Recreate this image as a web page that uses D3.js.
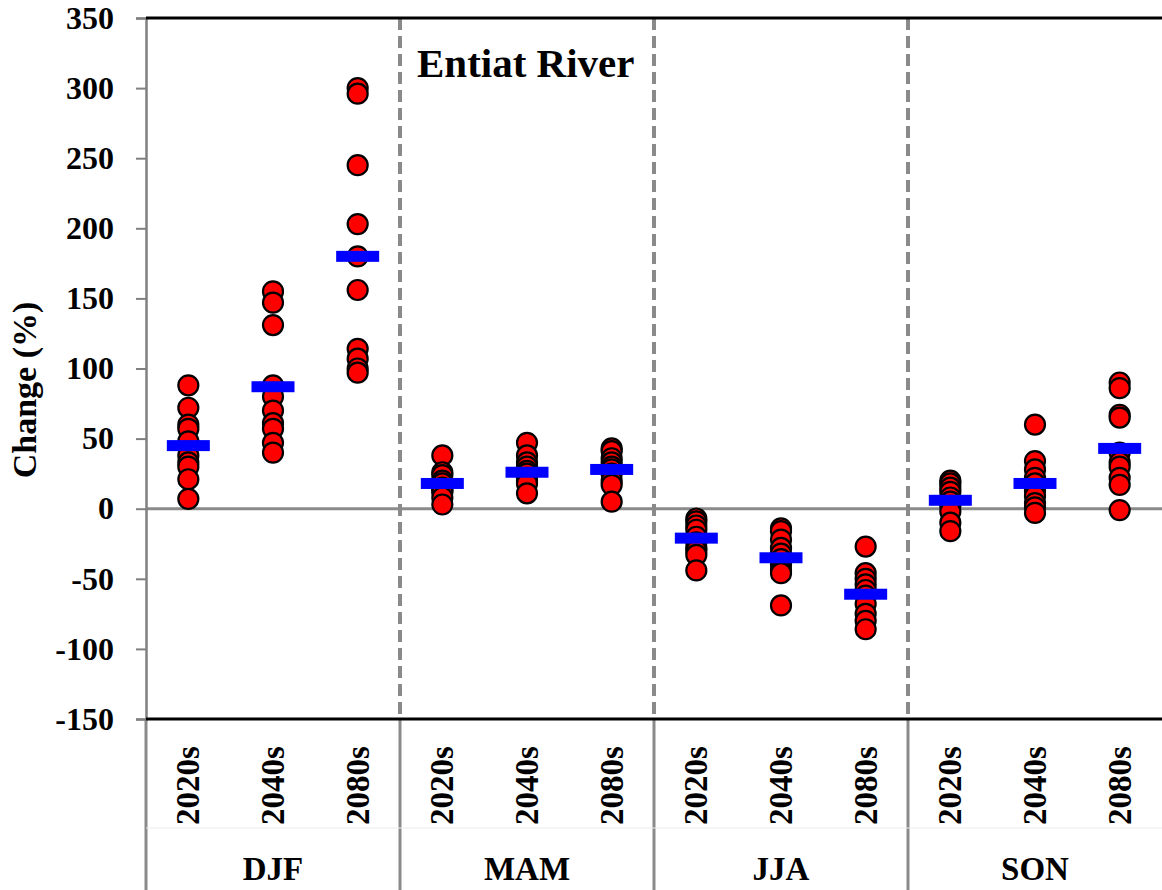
<!DOCTYPE html>
<html>
<head>
<meta charset="utf-8">
<script src="https://cdn.jsdelivr.net/npm/d3@7"></script>
<style>
  body { margin: 0; background: #fff; }
  text { font-family: "Liberation Serif", "Times New Roman", serif; font-weight: bold; }
</style>
</head>
<body>
<div class="canvas"></div>
<script>
// Data (% change in streamflow, one value per GCM)
const seasons = ['DJF', 'MAM', 'JJA', 'SON'];
const periods = ['2020s', '2040s', '2080s'];

const djf = [
    [88, 72, 60, 57, 48, 38, 33, 30, 21, 7],
    [155, 147, 131, 88, 80, 70, 61, 57, 47, 40],
    [300, 296, 245, 203, 180, 156, 114, 107, 100, 97]
];
const mam = [
    [38, 26, 24, 20, 18, 15, 13, 12, 8, 3],
    [47, 38, 33, 30, 27, 25, 22, 20, 18, 11],
    [43, 41, 36, 33, 30, 28, 25, 20, 17, 5]
];
const jja = [
    [-7, -9, -12, -15, -20, -24, -28, -30, -33, -44],
    [-14, -16, -22, -28, -32, -36, -40, -44, -46, -69],
    [-27, -46, -50, -54, -58, -62, -68, -75, -80, -86]
];
const son = [
    [20, 18, 15, 12, 8, 5, 2, -2, -10, -16],
    [60, 34, 28, 22, 18, 13, 9, 4, 1, -3],
    [90, 86, 67, 65, 40, 33, 30, 22, 17, -1]
];

// ensemble mean shown as blue bar
const djfMean = [45, 87, 180];
const mamMean = [18, 26, 28];
const jjaMean = [-21, -35, -61];
const sonMean = [6, 18, 43];

const yTicks = [350, 300, 250, 200, 150, 100, 50, 0, -50, -100, -150];

// Variables
const width = 1162, height = 890;
const plotLeft = 146, plotRight = 1162, plotTop = 18, plotBottom = 719;

const svg = d3.select('.canvas')
    .append('svg')
    .attr('width', width)
    .attr('height', height);

const allValues = [djf, mam, jja, son];
const allMeans = [djfMean, mamMean, jjaMean, sonMean];

// one slot per season/period pair
const keys = [];
seasons.forEach(s => periods.forEach(p => keys.push(s + '-' + p)));

const x = d3.scaleBand().domain(keys).range([plotLeft, plotRight]);
const xSeason = d3.scaleBand().domain(seasons).range([plotLeft, plotRight]);
const y = d3.scaleLinear().domain([-150, 350]).range([plotBottom, plotTop]);

// flatten into points
const points = [];
const means = [];
seasons.forEach((s, i) => {
    periods.forEach((p, j) => {
        allValues[i][j].forEach(v => points.push({ key: s + '-' + p, value: v }));
        means.push({ key: s + '-' + p, value: allMeans[i][j] });
    });
});

// dashed season separators
svg.selectAll('line.sep')
    .data(seasons.slice(1))
    .enter().append('line')
    .attr('class', 'sep')
    .attr('x1', d => xSeason(d)).attr('x2', d => xSeason(d))
    .attr('y1', plotTop).attr('y2', plotBottom)
    .attr('stroke', '#8a8a8a')
    .attr('stroke-width', 4)
    .attr('stroke-dasharray', '12,6');

// solid separators in the category area
svg.selectAll('line.catsep')
    .data(seasons)
    .enter().append('line')
    .attr('class', 'catsep')
    .attr('x1', d => xSeason(d)).attr('x2', d => xSeason(d))
    .attr('y1', plotBottom).attr('y2', height)
    .attr('stroke', '#8a8a8a')
    .attr('stroke-width', 3);

// faint line between period and season labels
svg.append('line')
    .attr('x1', plotLeft).attr('x2', plotRight)
    .attr('y1', 828).attr('y2', 828)
    .attr('stroke', '#ececec')
    .attr('stroke-width', 1);

// zero line
svg.append('line')
    .attr('x1', plotLeft).attr('x2', plotRight)
    .attr('y1', y(0)).attr('y2', y(0))
    .attr('stroke', '#8a8a8a')
    .attr('stroke-width', 3);

// y axis
const yAxis = svg.append('g')
    .attr('transform', `translate(${plotLeft},0)`)
    .call(d3.axisLeft(y).tickValues(yTicks).tickSize(10).tickPadding(22).tickFormat(d => String(d)));
yAxis.attr('font-family', null);
yAxis.select('.domain').attr('stroke', '#808080').attr('stroke-width', 2.5);
yAxis.selectAll('.tick line').attr('stroke', '#808080').attr('stroke-width', 2);
yAxis.selectAll('.tick text')
    .attr('fill', '#000')
    .style('font-size', '32px')
    .style('font-family', '"Liberation Serif", "Times New Roman", serif')
    .style('font-weight', 'bold');

// top and bottom black borders
svg.append('line')
    .attr('x1', plotLeft).attr('x2', plotRight)
    .attr('y1', plotTop).attr('y2', plotTop)
    .attr('stroke', '#000').attr('stroke-width', 3);
svg.append('line')
    .attr('x1', plotLeft).attr('x2', plotRight)
    .attr('y1', plotBottom).attr('y2', plotBottom)
    .attr('stroke', '#000').attr('stroke-width', 3);

// GCM points
svg.selectAll('circle.pt')
    .data(points)
    .enter().append('circle')
    .attr('class', 'pt')
    .attr('cx', d => x(d.key) + x.bandwidth() / 2)
    .attr('cy', d => y(d.value))
    .attr('r', 10)
    .attr('fill', '#ff0000')
    .attr('stroke', '#000')
    .attr('stroke-width', 2.2);

// ensemble mean bars
svg.selectAll('rect.mean')
    .data(means)
    .enter().append('rect')
    .attr('class', 'mean')
    .attr('x', d => x(d.key) + x.bandwidth() / 2 - 21.5)
    .attr('y', d => y(d.value) - 5.5)
    .attr('width', 43)
    .attr('height', 11)
    .attr('fill', '#0000ff');

// period labels (rotated)
svg.selectAll('text.period')
    .data(keys)
    .enter().append('text')
    .attr('class', 'period')
    .attr('transform', d => `translate(${x(d) + x.bandwidth() / 2 + 11},825) rotate(-90)`)
    .attr('text-anchor', 'start')
    .style('font-size', '33px')
    .text(d => d.split('-')[1]);

// season labels
svg.selectAll('text.season')
    .data(seasons)
    .enter().append('text')
    .attr('class', 'season')
    .attr('x', d => xSeason(d) + xSeason.bandwidth() / 2)
    .attr('y', 880)
    .attr('text-anchor', 'middle')
    .style('font-size', '33px')
    .text(d => d);

// y axis title
svg.append('text')
    .attr('transform', 'translate(36,390) rotate(-90)')
    .attr('text-anchor', 'middle')
    .style('font-size', '34px')
    .text('Change (%)');

// panel title
svg.append('text')
    .attr('x', 417)
    .attr('y', 77)
    .style('font-size', '41px')
    .text('Entiat River');
</script>
</body>
</html>
